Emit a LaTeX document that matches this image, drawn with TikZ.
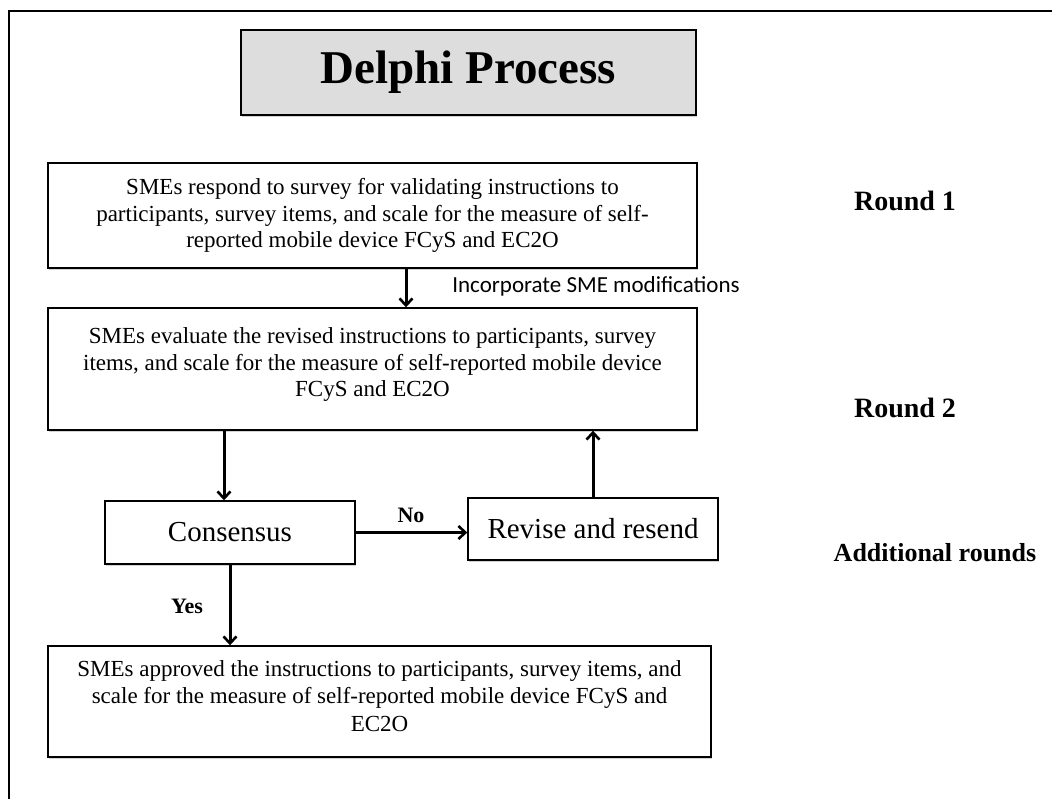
\documentclass[tikz,border=0pt]{standalone}
\usepackage{fontspec}
\setmainfont{Liberation Serif}
\newfontfamily\calibri{Carlito}
\usetikzlibrary{arrows.meta,shadows}

\begin{document}
\begin{tikzpicture}[x=1pt,y=-1pt,
  box/.style={draw=black, line width=1.4pt, fill=white, rectangle, align=center,
    inner sep=0pt, anchor=center,
    drop shadow={opacity=0.35, shadow xshift=1.2pt, shadow yshift=-1.8pt},
    font=\fontsize{23}{26.5}\selectfont},
  arr/.style={line width=3pt, -{Straight Barb[length=7pt,width=13pt,line width=2.6pt]}},
  side/.style={font=\fontsize{28}{32}\selectfont\bfseries, anchor=center},
  ans/.style={font=\fontsize{22}{26}\selectfont\bfseries, anchor=center}]

\useasboundingbox (0,0) rectangle (1052,799);

% page frame (top and left edges)
\draw[line width=2pt] (9,799) -- (9,11) -- (1052,11);

% title
\node[box, fill={rgb,255:red,221;green,221;blue,221}, minimum width=455, minimum height=85,
      font=\fontsize{47}{52}\selectfont\bfseries] (title) at (468.5,72.5) {Delphi Process};

% process boxes
\node[box, minimum width=649, minimum height=105] (r1) at (372.5,215.5)
  {SMEs respond to survey for validating instructions to\\
   participants, survey items, and scale for the measure of self-\\
   reported mobile device FCyS and EC2O};

\node[box, minimum width=649, minimum height=122, text depth=13pt] (r2) at (372.5,369)
  {SMEs evaluate the revised instructions to participants, survey\\
   items, and scale for the measure of self-reported mobile device\\
   FCyS and EC2O};

\node[box, minimum width=250, minimum height=63, font=\fontsize{29}{33}\selectfont] (cons) at (230,532.5) {Consensus};

\node[box, minimum width=250, minimum height=62, font=\fontsize{29}{33}\selectfont] (rev) at (593,529) {Revise and resend};

\node[box, minimum width=663, minimum height=111, text depth=11pt,
      font=\fontsize{23}{27.5}\selectfont] (final) at (379.5,701.5)
  {SMEs approved the instructions to participants, survey items, and\\
   scale for the measure of self-reported mobile device FCyS and\\
   EC2O};

% round labels
\node[side] (lab1) at (905,201) {Round 1};
\node[side] (lab2) at (905,408) {Round 2};
\node[side, font=\fontsize{26}{30}\selectfont\bfseries] (lab3) at (935,553) {Additional rounds};

% connectors
\draw[arr] ([xshift=33.5pt]r1.south) -- ([xshift=33.5pt]r1.south |- r2.north);
\draw[arr] ([xshift=-6pt]cons.north |- r2.south) -- ([xshift=-6pt]cons.north);
\draw[arr] (cons.east) -- (cons.east -| rev.west);
\draw[arr] (rev.north) -- (rev.north |- r2.south);
\draw[arr] (cons.south) -- (cons.south |- final.north);

% connector labels
\node[font=\calibri\fontsize{23}{27}\selectfont, anchor=center] (inc) at (596,286) {Incorporate SME modifications};
\node[ans] (no) at (411,515) {No};
\node[ans] (yes) at (187,606) {Yes};

\end{tikzpicture}
\end{document}
